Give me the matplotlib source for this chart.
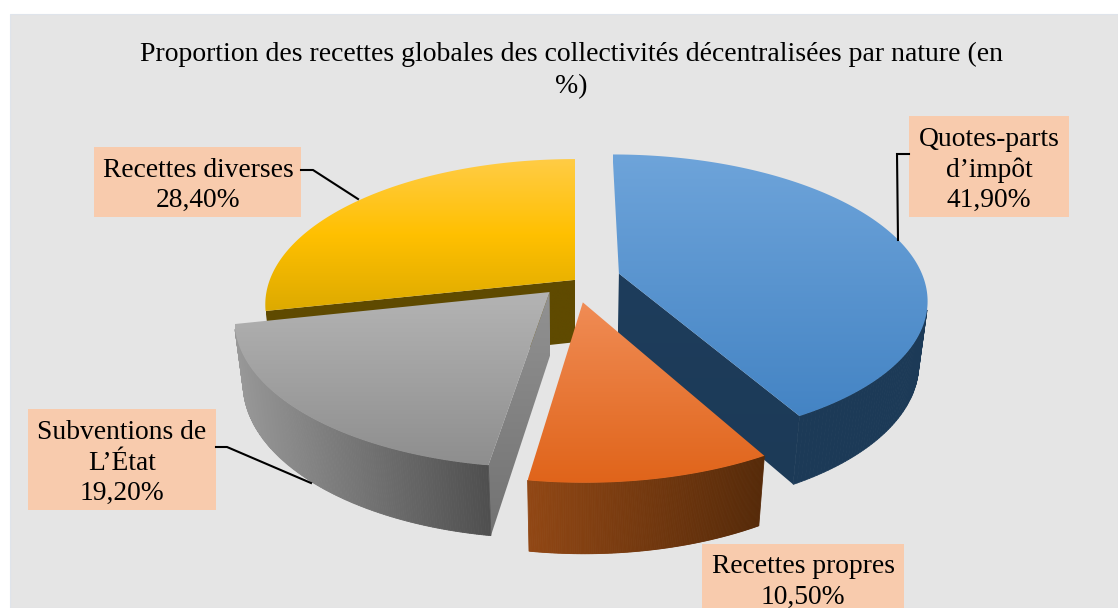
import numpy as np
import matplotlib
matplotlib.use("Agg")
import matplotlib.pyplot as plt
from matplotlib.colors import LinearSegmentedColormap, to_rgb
from matplotlib.patches import Polygon, Rectangle

# donnees
categories = ["Quotes-parts\nd\u2019imp\u00f4t", "Recettes propres", "Subventions de\nL\u2019\u00c9tat", "Recettes diverses"]
values = [41.9, 10.5, 19.2, 28.4]
title = "Proportion des recettes globales des collectivit\u00e9s d\u00e9centralis\u00e9es par nature (en\n%)"

# style de chaque part
offsets = [(0.145, 0.06), (0.025, -0.14), (-0.082, -0.07), (0.0, 0.015)]
show_start = [False, False, True, True]
top_colors = [["#6EA4DA", "#4484C4"], ["#F08C55", "#E0641A"], ["#B4B4B4", "#8E8E8E"], ["#FFCC45", "#FFC000", "#DDAA00"]]
rim_colors = [["#1C3A57", "#1C3A57"], ["#914714", "#562A09"], ["#989898", "#4F4F4F"], ["#6B5200", "#6B5200"]]
face_colors = [["#1E3D5C", "#1C3A57"], ["#8A4312", "#8A4312"], ["#929292", "#727272"], ["#5F4A00", "#5F4A00"]]
box_xy = [(909, 116, 160, 101), (702, 544, 202, 80), (28, 409, 188, 101), (94, 147, 207, 70)]
text_xy = [(989, 170), (803, 582), (122, 463), (198, 185.5)]
leaders = [[(909, 154), (897, 154), (898, 240)], [], [(216, 447), (227, 447), (311, 483)], [(301, 170), (313, 170), (358, 199)]]

cx, cy = 575, 282
Rx, Ry, H = 306, 142, 64
p, q = 0.17, 0.025


def project(X, Y, Z):
    w = 1 + p * Y + q * Z
    return cx + Rx * X / w, cy + (-Ry * Y + H * Z) / w


def area(pts):
    a = 0
    for i in range(len(pts)):
        x0, y0 = pts[i]
        x1, y1 = pts[(i + 1) % len(pts)]
        a += x0 * y1 - x1 * y0
    return a


def gradient(pts, colors, z, vertical=True):
    pts = np.array(pts)
    cmap = LinearSegmentedColormap.from_list("g", colors)
    g = np.linspace(0, 1, 256)
    g = g.reshape(-1, 1) if vertical else g.reshape(1, -1)
    poly = Polygon(pts, closed=True, fc="none", ec="none", transform=ax.transData)
    ax.add_patch(poly)
    im = ax.imshow(g, cmap=cmap, aspect="auto", interpolation="bilinear", zorder=z, vmin=0, vmax=1,
                   extent=(pts[:, 0].min(), pts[:, 0].max(), pts[:, 1].max(), pts[:, 1].min()))
    im.set_clip_path(poly)


fig = plt.figure(figsize=(11.18, 6.08), dpi=100)
ax = fig.add_axes([0, 0, 1, 1])
ax.axis("off")
fig.patch.set_facecolor("white")

ax.add_patch(Rectangle((10, 14), 1108, 594, fc="#E5E5E5", ec="#DFE4EB", lw=0.8, zorder=1))

shares = np.array(values) / sum(values) * 2 * np.pi
ends = np.cumsum(shares)
starts = ends - shares

# ordre de dessin : du fond vers l'avant
z = 2
for i in [3, 0, 2, 1]:
    t = np.linspace(starts[i], ends[i], 180)
    ox, oy = offsets[i]
    X, Y = np.sin(t) + ox, np.cos(t) + oy
    top = np.array(project(X, Y, 0)).T
    bot = np.array(project(X, Y, 1)).T
    a_top = project(ox, oy, 0)
    a_bot = project(ox, oy, 1)

    # faces radiales
    q_start = [tuple(top[0]), a_top, a_bot, tuple(bot[0])]
    q_end = [a_top, tuple(top[-1]), tuple(bot[-1]), a_bot]
    if show_start[i] and area(q_start) > 0:
        gradient(q_start, face_colors[i], z)
        z += 1
    if area(q_end) > 0:
        gradient(q_end, face_colors[i], z)
        z += 1

    # bord exterieur, couleur selon x
    x0, x1 = top[:, 0].min(), top[:, 0].max()
    c0, c1 = np.array(to_rgb(rim_colors[i][0])), np.array(to_rgb(rim_colors[i][1]))
    for k in range(len(t) - 1):
        quad = [top[k], top[k + 1], bot[k + 1], bot[k]]
        if area(quad) < 0:
            f = (top[k, 0] - x0) / (x1 - x0)
            col = c0 + (c1 - c0) * f
            ax.add_patch(Polygon(quad, closed=True, fc=col, ec=col, lw=0.6, zorder=z))
    z += 1

    # dessus
    gradient(list(top) + [a_top], top_colors[i], z)
    z += 1

ax.text(571, 70.5, title, ha="center", va="center", fontsize=20, family="Liberation Serif", color="black",
        linespacing=1.37, zorder=50)

for i in range(len(values)):
    bx, by, bw, bh = box_xy[i]
    ax.add_patch(Rectangle((bx, by), bw, bh, fc="#F8CBAD", ec="none", zorder=40))
    label = categories[i] + "\n" + f"{values[i]:.2f}".replace(".", ",") + "%"
    ax.text(text_xy[i][0], text_xy[i][1], label, ha="center", va="center", fontsize=19.8,
            family="Liberation Serif", color="black", linespacing=1.29, zorder=50)
    if leaders[i]:
        lx, ly = zip(*leaders[i])
        ax.plot(lx, ly, color="black", lw=1.5, zorder=45, solid_joinstyle="miter")

ax.set_xlim(0, 1118)
ax.set_ylim(608, 0)
fig.savefig("out.png", dpi=100)
